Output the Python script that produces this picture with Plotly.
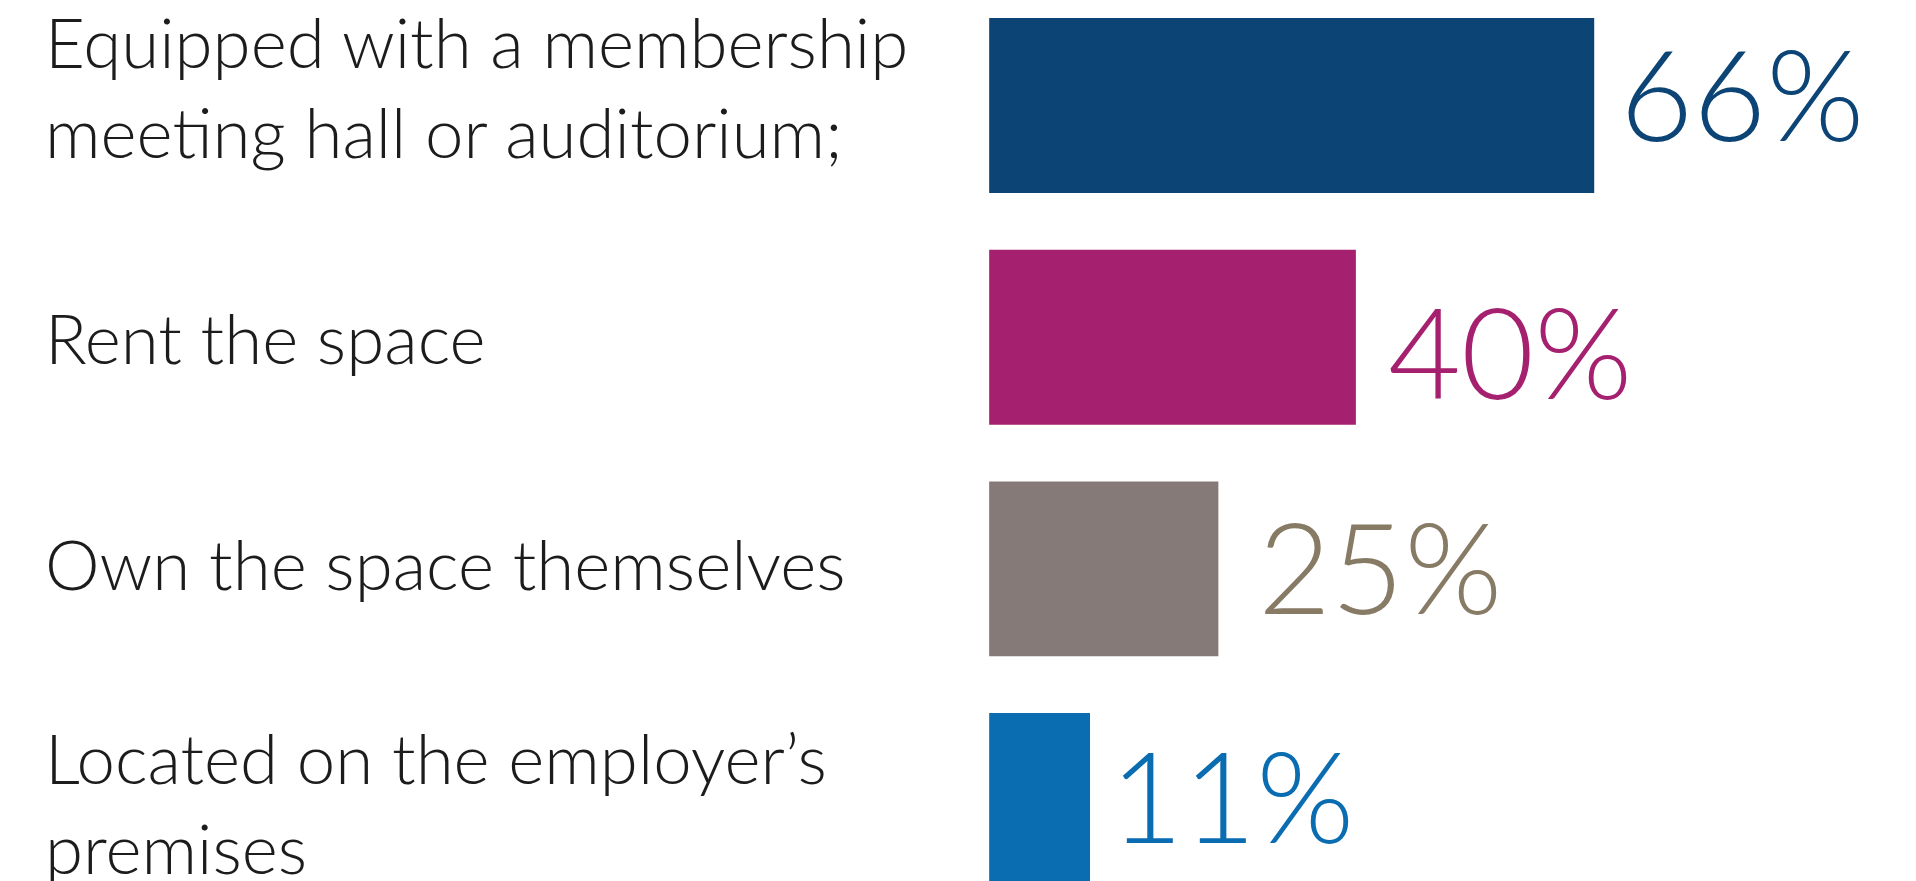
import plotly.graph_objects as go

# ---- data ----
categories = [
    "Equipped with a membership<br>meeting hall or auditorium;",
    "Rent the space",
    "Own the space themselves",
    "Located on the employer’s<br>premises",
]
values = [66, 40, 25, 11]
value_labels = ["66%", "40%", "25%", "11%"]

# ---- style ----
bar_colors = ["#0B4475", "#A5206E", "#857A77", "#0A6CB1"]
text_colors = ["#0B4475", "#A5206E", "#877B66", "#0A6CB1"]
cat_yshift = [19, 0, 5, -2]
val_yshift = [13, -13, 3, 6]
val_xshift = [24, 30, 38, 18]

W, H = 1916, 881

fig = go.Figure(
    go.Bar(
        x=values,
        y=categories,
        orientation="h",
        marker=dict(color=bar_colors, line=dict(width=0)),
        hoverinfo="skip",
    )
)

annotations = []
for cat, ys in zip(categories, cat_yshift):
    annotations.append(dict(
        x=43 / W, xref="paper", xanchor="left", align="left",
        y=cat, yref="y", yanchor="middle", yshift=ys,
        text=cat, showarrow=False,
        font=dict(family="Lato", size=69, color="#1C1C1C", weight=300),
    ))
for cat, v, lab, col, ys, xs in zip(categories, values, value_labels, text_colors, val_yshift, val_xshift):
    annotations.append(dict(
        x=v, xref="x", xanchor="left", xshift=xs,
        y=cat, yref="y", yanchor="middle", yshift=ys,
        text=lab, showarrow=False,
        font=dict(family="Lato", size=126, color=col, weight=300),
    ))

fig.update_layout(
    width=W, height=H,
    margin=dict(l=0, r=0, t=0, b=0, pad=0),
    paper_bgcolor="white", plot_bgcolor="white",
    bargap=0.245,
    showlegend=False,
    annotations=annotations,
    xaxis=dict(range=[-107.9, 101.1], visible=False, fixedrange=True),
    yaxis=dict(range=[3.347, -0.455], visible=False, fixedrange=True,
               categoryorder="array", categoryarray=categories),
)

fig.write_html(
    "out.html",
    config={"displayModeBar": False},
    post_script="document.body.style.margin='0';document.body.style.overflow='hidden';",
)
